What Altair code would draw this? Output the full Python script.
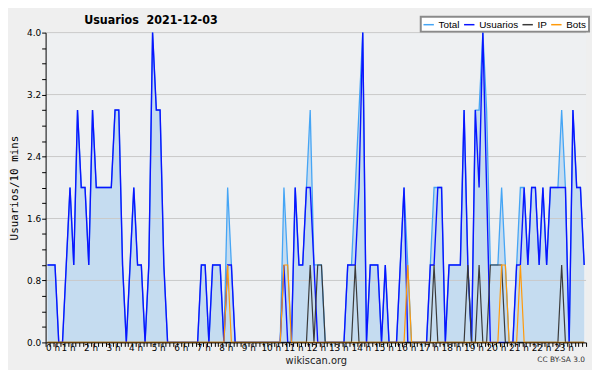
import altair as alt
import pandas as pd

usuarios = [
    1, 1, 1, 0, 0, 1, 2, 1, 3, 2,
    2, 1, 3, 2, 2, 2, 2, 2, 3, 3,
    1, 0, 1, 2, 1, 1, 0, 1, 4, 3,
    3, 1, 0, 0, 0, 0, 0, 0, 0, 0,
    0, 1, 1, 0, 1, 1, 1, 0, 1, 1,
    0, 0, 0, 0, 0, 0, 0, 0, 0, 0,
    0, 0, 0, 1, 0, 0, 2, 1, 1, 2,
    2, 1, 0, 0, 0, 0, 0, 0, 0, 0,
    1, 1, 1, 2, 4, 0, 1, 1, 1, 0,
    1, 0, 0, 0, 1, 2, 0, 0, 0, 0,
    0, 0, 1, 1, 2, 2, 0, 1, 1, 1,
    1, 3, 1, 0, 3, 2, 4, 2, 0, 0,
    0, 0, 0, 0, 0, 1, 1, 2, 1, 2,
    2, 1, 2, 1, 2, 2, 2, 2, 2, 0,
    3, 2, 2, 1,
]
total = [
    1, 1, 1, 0, 0, 1, 2, 1, 3, 2,
    2, 1, 3, 2, 2, 2, 2, 2, 3, 3,
    1, 0, 1, 2, 1, 1, 0, 1, 4, 3,
    3, 1, 0, 0, 0, 0, 0, 0, 0, 0,
    0, 1, 1, 0, 1, 1, 1, 0, 2, 1,
    0, 0, 0, 0, 0, 0, 0, 0, 0, 0,
    0, 0, 0, 2, 1, 0, 2, 1, 1, 2,
    3, 1, 1, 1, 0, 0, 0, 0, 0, 0,
    1, 1, 2, 3, 4, 0, 1, 1, 1, 0,
    1, 0, 0, 0, 1, 2, 1, 0, 0, 0,
    0, 0, 1, 2, 2, 2, 0, 1, 1, 1,
    1, 3, 1, 0, 3, 3, 4, 3, 1, 1,
    1, 2, 1, 0, 0, 1, 2, 2, 1, 2,
    2, 1, 2, 1, 2, 2, 2, 3, 2, 0,
    3, 2, 2, 1,
]
ip_slots = [70, 72, 73, 82, 103, 112, 115, 118, 119, 120, 121, 137]
bots_slots = [48, 63, 64, 96, 121, 122, 126]
ip = [1 if k in ip_slots else 0 for k in range(144)]
bots = [1 if k in bots_slots else 0 for k in range(144)]

series_names = ["Total", "Usuarios", "IP", "Bots"]
series_colors = ["#45a5f5", "#0a14ff", "#3a3a3a", "#ff9a0a"]
grid_values = [0.8, 1.6, 2.4, 3.2, 4.0]
x_tick_values = [i / 6 for i in range(145)]
y_tick_values = [k / 5 for k in range(21)]
title_text = "Usuarios\u00a0\u00a02021-12-03"
license_text = "CC BY-SA 3.0"

rows = []
for name, vals in zip(series_names, [total, usuarios, ip, bots]):
    for i, v in enumerate(vals):
        rows.append({"h": (i + 0.5) / 6, "v": v, "serie": name})
df = pd.DataFrame(rows)

W, H = 546, 313
xscale = alt.Scale(domain=[0, 24], nice=False, zero=False)
yscale = alt.Scale(domain=[0, 4], nice=False)
legend = alt.Legend(
    title=None, orient="none", legendX=379, legendY=-16, direction="horizontal",
    columns=4, symbolType="stroke", symbolSize=110, symbolStrokeWidth=1.5,
    labelFontSize=10, labelFont="Liberation Sans", labelColor="#000",
    fillColor="#ffffff", strokeColor="#8a8a8a",
    padding=2, columnPadding=0, symbolOffset=0, labelOffset=4,
)
color = alt.Color("serie:N", scale=alt.Scale(domain=series_names, range=series_colors), legend=legend)

xaxis = alt.Axis(
    values=x_tick_values,
    labelExpr="(abs(datum.value - round(datum.value)) < 0.001 && datum.value < 23.5) ? round(datum.value) + ' h' : ''",
    labelOverlap=False, labelFontSize=9, labelFont="DejaVu Sans", labelColor="#000",
    tickSize=4, tickColor="#000", domainColor="#000", labelPadding=-3, grid=False,
    title="wikiscan.org", titleFontSize=10, titleFont="DejaVu Sans", titleFontWeight="normal",
    titleColor="#222", titlePadding=3, zindex=1,
)
yaxis = alt.Axis(
    values=y_tick_values,
    labelExpr="abs(datum.value / 0.8 - round(datum.value / 0.8)) < 0.001 ? format(datum.value, '.1f') : ''",
    labelOverlap=False, labelFontSize=9, labelFont="DejaVu Sans", labelColor="#000",
    tickSize=4, tickColor="#000", domainColor="#000", labelPadding=1, grid=False,
    title="Usuarios/10 mins", titleFont="DejaVu Sans Mono", titleFontSize=11,
    titleFontWeight="normal", titleColor="#000", titleX=-31, titleY=H / 2,
    titleBaseline="middle", zindex=1,
)

X = alt.X("h:Q", scale=xscale, axis=xaxis)
Y = alt.Y("v:Q", scale=yscale, axis=yaxis)

base = alt.Chart(df)
area = base.transform_filter(alt.datum.serie == "Total").mark_area(
    color="#c5dcf0", opacity=1, interpolate="linear"
).encode(x=X, y=Y)
grid = alt.Chart(pd.DataFrame({"g": grid_values})).mark_rule(color="#c9c9c9", strokeWidth=1).encode(
    y=alt.Y("g:Q", scale=yscale, axis=yaxis)
)

def line(name, width):
    return base.transform_filter(alt.datum.serie == name).mark_line(
        strokeWidth=width, interpolate="linear"
    ).encode(x=X, y=Y, color=color)

footer = alt.Chart(pd.DataFrame({"t": [license_text]})).mark_text(
    align="right", baseline="middle", fontSize=7.5, font="DejaVu Sans", color="#333"
).encode(text="t:N", x=alt.value(W - 1), y=alt.value(H + 18))

header = alt.Chart(pd.DataFrame({"t": [title_text]})).mark_text(
    align="left", baseline="middle", fontSize=12.5, font="DejaVu Sans Condensed", fontWeight="bold", color="#000"
).encode(text="t:N", x=alt.value(39), y=alt.value(-13))

chart = alt.layer(
    area, grid, line("Total", 1.3), line("Usuarios", 1.4), line("IP", 1.2), line("Bots", 1.2),
    footer, header
).properties(
    width=W, height=H,
    autosize=alt.AutoSizeParams(type="none"),
    padding={"left": 38, "top": 23, "right": 6, "bottom": 26},
    background="#efefef",
).configure_view(fill="#eef0f2", stroke=None).configure_legend(strokeWidth=2)

chart.save("out.html", embed_options={"renderer": "svg", "actions": False})
